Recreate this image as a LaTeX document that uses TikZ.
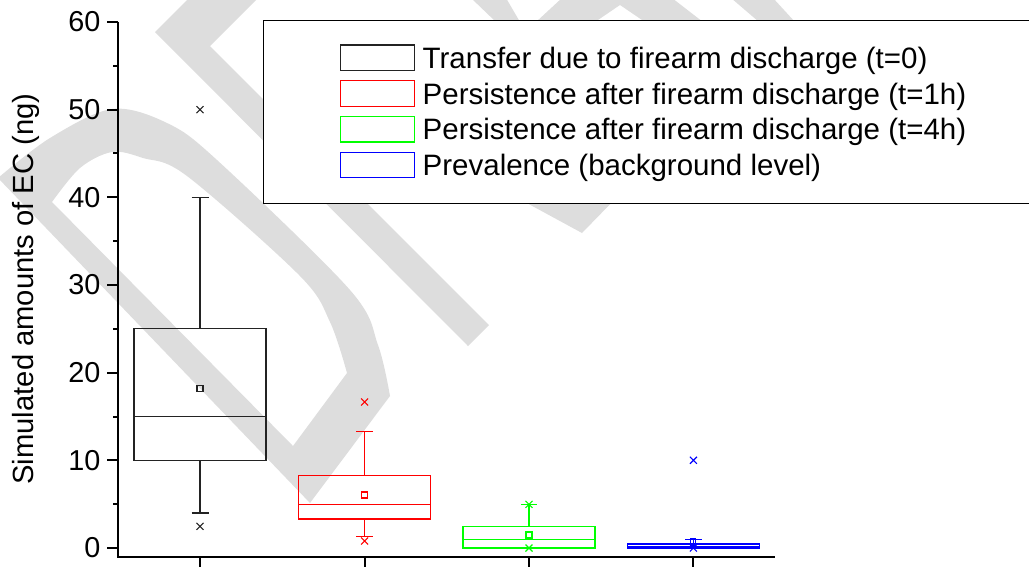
\documentclass[tikz,border=0pt]{standalone}
\usepackage{fontspec}
\setmainfont{Liberation Sans}
\definecolor{wm}{RGB}{221,221,221}
\definecolor{bx}{RGB}{35,35,35}
\definecolor{pr}{RGB}{255,0,0}
\definecolor{pg}{RGB}{0,255,0}
\definecolor{pb}{RGB}{0,0,255}
\tikzset{
  axisline/.style={line width=2pt, black},
  boxline/.style={line width=1.3pt},
  ticklab/.style={anchor=east, inner sep=0pt, font=\fontsize{28.8}{34}\selectfont},
  legtext/.style={anchor=base west, inner sep=0pt, font=\fontsize{29.5}{34}\selectfont},
  meansq/.style={draw=#1, line width=1.1pt, minimum size=6pt, inner sep=0pt},
  xm/.pic={\draw[line width=1.1pt] (-3.5pt,-3.5pt)--(3.5pt,3.5pt) (-3.5pt,3.5pt)--(3.5pt,-3.5pt);}
}
\begin{document}
\begin{tikzpicture}[x=1pt,y=-1pt]
\useasboundingbox (0,0) rectangle (1029,566);
% ---------------- watermark ----------------
\begin{scope}
\clip (0,0) rectangle (1029,566);
\fill[wm,even odd rule]
  plot[smooth,tension=0.55] coordinates {(-2,178)(50,138)(112,109)(167,123)(217,160)(350,290)(378,345)(390,396)} -- (310,503) -- cycle
  plot[smooth,tension=0.55] coordinates {(52,202)(80,168)(112,152)(143,158)(187,176)(300,276)(330,322)(347,373)} -- (293,446) -- cycle;
\fill[wm] (155,32) -- (190,-3) -- (259,-3) -- (210,46) -- (489,325) -- (468,346) -- cycle;
\fill[wm] (420,145) -- (582,233) -- (620,194) -- (560,150) -- cycle;
\fill[wm] (471,-2) -- (506,-2) -- (520,22) -- (496,22) -- cycle;
\fill[wm] (536,22) -- (562,-2) -- (672,-2) -- (703,22) -- (645,22) -- (620,5) -- (595,22) -- cycle;
\fill[wm] (731,-2) -- (773,-2) -- (795,22) -- (759,22) -- cycle;
\end{scope}
% ---------------- legend ----------------
\draw[line width=1.3pt, fill=white] (263.3,20.7) rectangle (1034,203.3);
\draw[line width=1.2pt, bx] (340.7,45) rectangle (414.3,70.3);
\draw[line width=1.2pt, pr] (340.7,80.8) rectangle (414.3,106.1);
\draw[line width=1.2pt, pg] (340.7,116.6) rectangle (414.3,141.9);
\draw[line width=1.2pt, pb] (340.7,152.4) rectangle (414.3,177.7);
\node[legtext] (lt1) at (422.5,68.3) {Transfer due to firearm discharge (t=0)};
\node[legtext] (lt2) at (422.5,104.1) {Persistence after firearm discharge (t=1h)};
\node[legtext] (lt3) at (422.5,139.9) {Persistence after firearm discharge (t=4h)};
\node[legtext] (lt4) at (422.5,175.7) {Prevalence (background level)};
% ---------------- axis title ----------------
\node[rotate=90, anchor=base, inner sep=0pt, font=\fontsize{29.2}{34}\selectfont] (ytitle) at (33.5,289) {Simulated amounts of EC (ng)};
% ---------------- plot (value coordinates) ----------------
\begin{scope}[shift={(0,548)}, y=8.767pt]
  % axes
  \draw[axisline, line join=miter] (118,60) -- (118,-1.027) -- (775,-1.027);
  \foreach \v in {0,10,...,60} {
    \draw[axisline] (107,\v) -- (118,\v);
    \node[ticklab] (yl\v) at (100.5,\v) {\v};
  }
  \foreach \v in {5,15,...,55} \draw[axisline] (113,\v) -- (118,\v);
  \foreach \c in {200,364.6,529,693.4} \draw[axisline] (\c,-1.027) -- (\c,-2.4);
  % box 1 (black)
  \begin{scope}[draw=bx, boxline]
    \draw (134,10) rectangle (266,25);
    \draw (134,15) -- (266,15);
    \draw (200,25) -- (200,40) (191.5,40) -- (208.5,40);
    \draw (200,10) -- (200,4) (191.5,4) -- (208.5,4);
    \node[meansq=bx] (m1) at (200,18.2) {};
    \pic[draw=bx] at (200,50) {xm};
    \pic[draw=bx] at (200,2.47) {xm};
  \end{scope}
  % box 2 (red)
  \begin{scope}[draw=pr, boxline]
    \draw (298.6,3.3) rectangle (430.6,8.29);
    \draw (298.6,4.94) -- (430.6,4.94);
    \draw (364.6,8.29) -- (364.6,13.3) (356.3,13.3) -- (372.9,13.3);
    \draw (364.6,3.3) -- (364.6,1.33) (356.3,1.33) -- (372.9,1.33);
    \node[meansq=pr] (m2) at (364.6,6.05) {};
    \pic[draw=pr] at (364.6,16.65) {xm};
    \pic[draw=pr] at (364.6,0.8) {xm};
  \end{scope}
  % box 3 (green)
  \begin{scope}[draw=pg, boxline]
    \draw (463,0) rectangle (595,2.47);
    \draw (463,0.95) -- (595,0.95);
    \draw (529,2.47) -- (529,4.98) (520.7,4.98) -- (537.3,4.98);
    \node[meansq=pg] (m3) at (529,1.48) {};
    \pic[draw=pg] at (529,4.98) {xm};
    \pic[draw=pg] at (529,0) {xm};
  \end{scope}
  % box 4 (blue)
  \begin{scope}[draw=pb, boxline]
    \draw (627.4,0) rectangle (759.4,0.45);
    \draw (627.4,0.1) -- (759.4,0.1);
    \draw (693.4,0.45) -- (693.4,0.95) (685,0.95) -- (701.8,0.95);
    \node[meansq=pb, minimum width=5pt] (m4) at (693.4,0.68) {};
    \pic[draw=pb] at (693.4,0) {xm};
    \pic[draw=pb] at (693.4,10) {xm};
  \end{scope}
\end{scope}
\end{tikzpicture}
\end{document}
